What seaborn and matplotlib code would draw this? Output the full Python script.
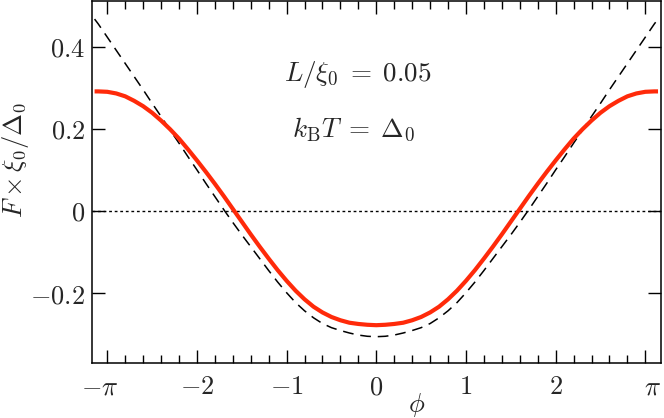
import numpy as np
import pandas as pd
import seaborn as sns
import matplotlib
matplotlib.use('Agg')
import matplotlib.pyplot as plt
from matplotlib.ticker import MultipleLocator

sns.set_theme(style='ticks')
plt.rcParams['mathtext.fontset'] = 'cm'
plt.rcParams['font.family'] = ['DejaVu Serif']

PI = np.pi
# phase grid, values every 0.1
phi = [-PI, -3.1, -3.0, -2.9, -2.8, -2.7, -2.6, -2.5, -2.4, -2.3, -2.2, -2.1, -2.0, -1.9, -1.8, -1.7,
       -1.6, -1.5, -1.4, -1.3, -1.2, -1.1, -1.0, -0.9, -0.8, -0.7, -0.6, -0.5, -0.4, -0.3, -0.2, -0.1,
       0.0, 0.1, 0.2, 0.3, 0.4, 0.5, 0.6, 0.7, 0.8, 0.9, 1.0, 1.1, 1.2, 1.3, 1.4, 1.5,
       1.6, 1.7, 1.8, 1.9, 2.0, 2.1, 2.2, 2.3, 2.4, 2.5, 2.6, 2.7, 2.8, 2.9, 3.0, 3.1, PI]
# red solid curve
f_red = [0.291, 0.291, 0.290, 0.286, 0.279, 0.268, 0.255, 0.239, 0.220, 0.199, 0.176, 0.150, 0.123, 0.095, 0.066, 0.036,
         0.005, -0.026, -0.057, -0.087, -0.116, -0.144, -0.170, -0.194, -0.215, -0.233, -0.247, -0.258, -0.266, -0.272, -0.275, -0.277,
         -0.278, -0.277, -0.275, -0.272, -0.266, -0.258, -0.247, -0.233, -0.215, -0.194, -0.170, -0.144, -0.116, -0.087, -0.057, -0.026,
         0.005, 0.036, 0.066, 0.095, 0.123, 0.150, 0.176, 0.199, 0.220, 0.239, 0.255, 0.268, 0.279, 0.286, 0.290, 0.291, 0.291]
# black dashed curve
f_dash = [0.467, 0.455, 0.423, 0.391, 0.359, 0.327, 0.295, 0.262, 0.230, 0.197, 0.165, 0.132, 0.100, 0.067, 0.035, 0.003,
          -0.028, -0.058, -0.087, -0.116, -0.145, -0.173, -0.199, -0.223, -0.243, -0.260, -0.274, -0.284, -0.291, -0.297, -0.302, -0.305,
          -0.306, -0.305, -0.302, -0.297, -0.291, -0.284, -0.274, -0.260, -0.243, -0.223, -0.199, -0.173, -0.145, -0.116, -0.087, -0.058,
          -0.028, 0.003, 0.035, 0.067, 0.100, 0.132, 0.165, 0.197, 0.230, 0.262, 0.295, 0.327, 0.359, 0.391, 0.423, 0.455, 0.467]

# tick marks at integers, the +-pi labels sit a little inside the frame
xtick_pos = [-3.085, -3, -2, -1, 0, 1, 2, 3, 3.08]
xtick_lab = [r'$-\pi$', '', r'$-2$', r'$-1$', r'$0$', r'$1$', r'$2$', '', r'$\pi$']
ytick_pos = [-0.2, 0.0, 0.2, 0.4]
ytick_lab = [r'$-0.2$', r'$0$', r'$0.2$', r'$0.4$']

df = pd.DataFrame({'phi': phi, 'red': f_red, 'dash': f_dash})

fig, ax = plt.subplots(figsize=(6.64, 4.18), dpi=100)
fig.subplots_adjust(left=0.1386, right=0.9955, top=0.9976, bottom=0.1316)

ax.axhline(0, color='black', lw=1.0, ls=(0, (2, 2)), zorder=1)
sns.lineplot(data=df, x='phi', y='dash', ax=ax, color='black', lw=1.1,
             ls=(0, (7, 4.5)), sort=False, zorder=2)
sns.lineplot(data=df, x='phi', y='red', ax=ax, color='#ff2a0a', lw=3.0,
             sort=False, zorder=3, solid_joinstyle='round', solid_capstyle='butt')

ax.set_xlim(-3.17, 3.175)
ax.set_ylim(-0.37, 0.511)

ax.set_xticks(xtick_pos)
ax.set_xticklabels(xtick_lab)
ax.xaxis.set_minor_locator(MultipleLocator(0.2))
ax.set_yticks(ytick_pos)
ax.set_yticklabels(ytick_lab)

ax.tick_params(which='both', direction='in', top=True, right=True, width=1.0,
               labelsize=19, color='black')
ax.tick_params(axis='x', which='major', length=9.5, pad=8)
ax.tick_params(axis='x', which='minor', length=5.8)
ax.tick_params(axis='y', which='major', length=9.5, pad=5)
for t in (ax.xaxis.get_major_ticks()[0], ax.xaxis.get_major_ticks()[-1]):
    t.tick1line.set_visible(False)
    t.tick2line.set_visible(False)

for s in ax.spines.values():
    s.set_linewidth(1.1)
    s.set_color('black')

ax.set_xlabel(r'$\phi$', fontsize=19)
ax.set_ylabel(r'$F\times\xi_0/\Delta_0$', fontsize=19)
ax.xaxis.set_label_coords(0.571, -0.078)
ax.yaxis.set_label_coords(-0.108, 0.56)

ax.text(-1.03, 0.317, r'$L/\xi_0 \;=\; 0.05$', fontsize=19.5, ha='left', va='baseline')
ax.text(-0.94, 0.181, r'$k_\mathrm{B}T \;=\; \Delta_0$', fontsize=19.5, ha='left', va='baseline')

fig.savefig('out.png', dpi=100)
